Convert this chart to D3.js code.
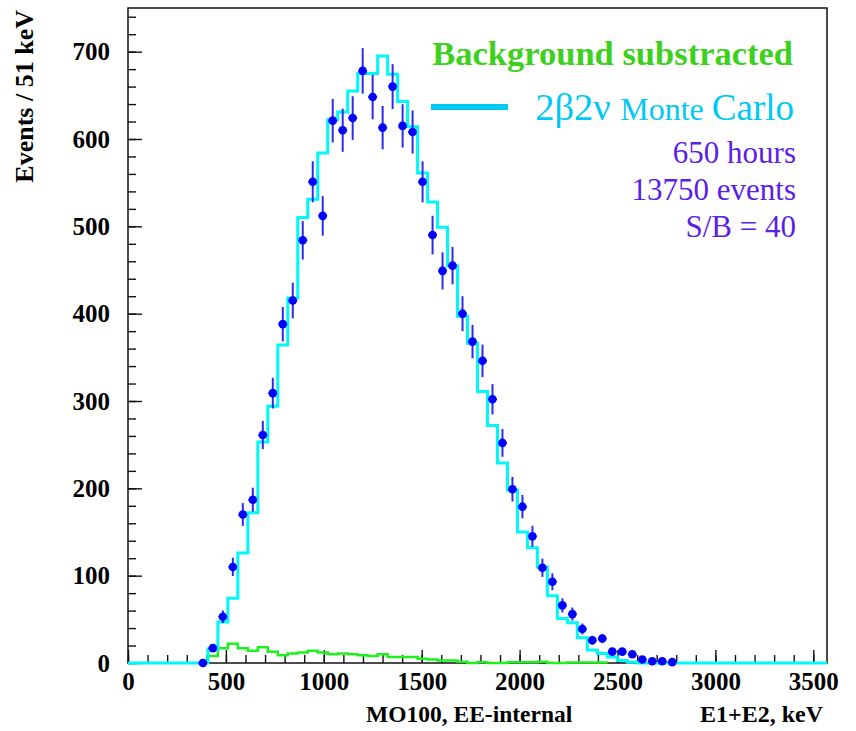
<!DOCTYPE html>
<html>
<head>
<meta charset="utf-8">
<script src="https://cdn.jsdelivr.net/npm/d3@7"></script>
<style>
  html, body { margin: 0; padding: 0; background: #fff; }
  svg { display: block; }
  text { font-family: "Liberation Serif", "Times New Roman", serif; }
</style>
</head>
<body>
<svg id="chart" width="856" height="731"></svg>
<script>
// binning: 70 bins of 51 keV
const binWidth = 51;
const xMax = 3570;
const yMax = 750;

// measured spectrum (background subtracted), first bin index 7
const dataFirstBin = 7;
const dataCounts = [0, 17, 53, 110, 170, 187, 261, 309, 388, 415,
  484, 551, 512, 621, 610, 624, 678, 648, 613, 660,
  615, 608, 551, 490, 449, 455, 400, 368, 346, 302,
  252, 199, 179, 145, 109, 93, 66, 56, 39, 26,
  28, 13, 13, 10, 4, 2, 2, 1];

// 2b2v Monte Carlo, first bin index 7
const mcFirstBin = 7;
const mcCounts = [0, 16, 47, 74, 126, 172, 253, 294, 364, 418,
  510, 531, 584, 622, 631, 655, 675, 675, 695, 674,
  643, 614, 561, 528, 499, 455, 397, 366, 311, 272,
  229, 198, 150, 132, 110, 77, 51, 46, 29, 15,
  11, 7, 3, 1, 0];

// background, first bin index 8
const bgFirstBin = 8;
const bgCounts = [8, 17, 22, 17, 14, 18, 13, 9, 11, 12,
  14, 12, 10, 11, 10, 9, 8, 10, 7, 7,
  7, 5, 4, 3, 3, 1.5, 0, 1, 0, 0,
  1, 1, 1, 1.5, 0, 0, 0.5, 0.5, 0.5, 0.5];

const xTicks = [0, 500, 1000, 1500, 2000, 2500, 3000, 3500];
const yTicks = [0, 100, 200, 300, 400, 500, 600, 700];
const infoLines = ['650 hours', '13750 events', 'S/B = 40'];

const margin = {top: 8, left: 128, right: 29, bottom: 68};
const width = 856 - margin.left - margin.right,
      height = 731 - margin.top - margin.bottom;

const svg = d3.select('#chart');
const g = svg.append('g').attr('transform', `translate(${margin.left},${margin.top})`);

const x = d3.scaleLinear().domain([0, xMax]).range([0, width]);
const y = d3.scaleLinear().domain([0, yMax]).range([height, 0]);

// minor ticks
g.append('g')
    .call(d3.axisLeft(y).tickValues(d3.range(0, 741, 20)).tickSize(-8).tickFormat(''))
    .call(a => a.select('.domain').remove())
    .selectAll('line').attr('stroke', '#111').attr('stroke-width', 1.4);

g.append('g')
    .attr('transform', `translate(0,${height})`)
    .call(d3.axisBottom(x).tickValues(d3.range(0, 3501, 100)).tickSize(-8).tickFormat(''))
    .call(a => a.select('.domain').remove())
    .selectAll('line').attr('stroke', '#111').attr('stroke-width', 1.4);

// major ticks + labels
const yAxis = g.append('g')
    .call(d3.axisLeft(y).tickValues(yTicks).tickSize(-14).tickPadding(18).tickFormat(d3.format('d')))
    .call(a => a.select('.domain').remove());
yAxis.selectAll('line').attr('stroke', '#111').attr('stroke-width', 1.4);
yAxis.selectAll('text')
    .attr('fill', '#000')
    .style('font-size', '25px')
    .style('font-weight', 'bold')
    .style('font-family', '"Liberation Serif", serif');

const xAxis = g.append('g')
    .attr('transform', `translate(0,${height})`)
    .call(d3.axisBottom(x).tickValues(xTicks).tickSize(-13).tickPadding(9).tickFormat(d3.format('d')))
    .call(a => a.select('.domain').remove());
xAxis.selectAll('line').attr('stroke', '#111').attr('stroke-width', 1.4);
xAxis.selectAll('text')
    .attr('fill', '#000')
    .style('font-size', '25px')
    .style('font-weight', 'bold')
    .style('font-family', '"Liberation Serif", serif');

// frame
g.append('rect')
    .attr('width', width).attr('height', height)
    .attr('fill', 'none').attr('stroke', '#111').attr('stroke-width', 1.5);

// step path for a histogram
function stepPath(first, counts, fromZero) {
  let pts = [];
  if (fromZero) pts.push([x(0), y(0)]);
  pts.push([x(first*binWidth), y(0)]);
  counts.forEach((c, i) => {
    let lo = (first+i)*binWidth, hi = lo + binWidth;
    pts.push([x(lo), y(c)]);
    pts.push([x(hi), y(c)]);
  });
  pts.push([x((first+counts.length)*binWidth), y(0)]);
  if (fromZero) pts.push([x(xMax), y(0)]);
  return d3.line()(pts);
}

// background
g.append('path')
    .attr('d', stepPath(bgFirstBin, bgCounts, false))
    .attr('fill', 'none')
    .attr('stroke', '#1ef01e')
    .attr('stroke-width', 2.5);

// Monte Carlo
g.append('path')
    .attr('d', stepPath(mcFirstBin, mcCounts, true))
    .attr('fill', 'none')
    .attr('stroke', '#00f8f8')
    .attr('stroke-width', 3);

// data points with poisson errors
const pts = dataCounts.map((c, i) => ({
  lo: (dataFirstBin+i)*binWidth,
  hi: (dataFirstBin+i+1)*binWidth,
  c: c,
  err: Math.sqrt(c)
}));

const pg = g.append('g');
pg.selectAll('line.ey')
    .data(pts)
    .enter()
    .append('line')
    .attr('class', 'ey')
    .attr('x1', d => x((d.lo+d.hi)/2))
    .attr('x2', d => x((d.lo+d.hi)/2))
    .attr('y1', d => y(d.c - d.err))
    .attr('y2', d => y(d.c + d.err))
    .attr('stroke', '#2a2af0')
    .attr('stroke-width', 2);

pg.selectAll('line.ex')
    .data(pts)
    .enter()
    .append('line')
    .attr('class', 'ex')
    .attr('x1', d => x(d.lo) + 0.5)
    .attr('x2', d => x(d.hi) - 0.5)
    .attr('y1', d => y(d.c))
    .attr('y2', d => y(d.c))
    .attr('stroke', '#2a2af0')
    .attr('stroke-width', 1.5);

pg.selectAll('circle')
    .data(pts)
    .enter()
    .append('circle')
    .attr('cx', d => x((d.lo+d.hi)/2))
    .attr('cy', d => y(d.c))
    .attr('r', 4.3)
    .attr('fill', '#0000ff');

// axis titles
svg.append('text')
    .attr('transform', 'translate(33,10) rotate(-90)')
    .attr('text-anchor', 'end')
    .style('font-size', '26px')
    .style('font-weight', 'bold')
    .text('Events / 51 keV');

svg.append('text')
    .attr('x', 366).attr('y', 722)
    .style('font-size', '23.5px')
    .style('font-weight', 'bold')
    .text('MO100, EE-internal');

svg.append('text')
    .attr('x', 823).attr('y', 722)
    .attr('text-anchor', 'end')
    .style('font-size', '24px')
    .style('font-weight', 'bold')
    .text('E1+E2, keV');

// legend
svg.append('text')
    .attr('x', 793).attr('y', 65)
    .attr('text-anchor', 'end')
    .attr('fill', '#3dd01d')
    .style('font-size', '34.5px')
    .style('font-weight', 'bold')
    .text('Background substracted');

svg.append('line')
    .attr('x1', 431).attr('x2', 508)
    .attr('y1', 107).attr('y2', 107)
    .attr('stroke', '#00c8f5')
    .attr('stroke-width', 6);

let mc = svg.append('text')
    .attr('x', 794).attr('y', 120)
    .attr('text-anchor', 'end')
    .attr('fill', '#00c8f5');
mc.append('tspan').style('font-size', '38.5px').text('2β2ν ');
mc.append('tspan').style('font-size', '32px').text('Monte ');
mc.append('tspan').style('font-size', '37px').text('Carlo');

svg.selectAll('text.info')
    .data(infoLines)
    .enter()
    .append('text')
    .attr('class', 'info')
    .attr('x', 796)
    .attr('y', (d, i) => 163 + i*37)
    .attr('text-anchor', 'end')
    .attr('fill', '#5a20e8')
    .style('font-size', '31px')
    .text(d => d);
</script>
</body>
</html>
